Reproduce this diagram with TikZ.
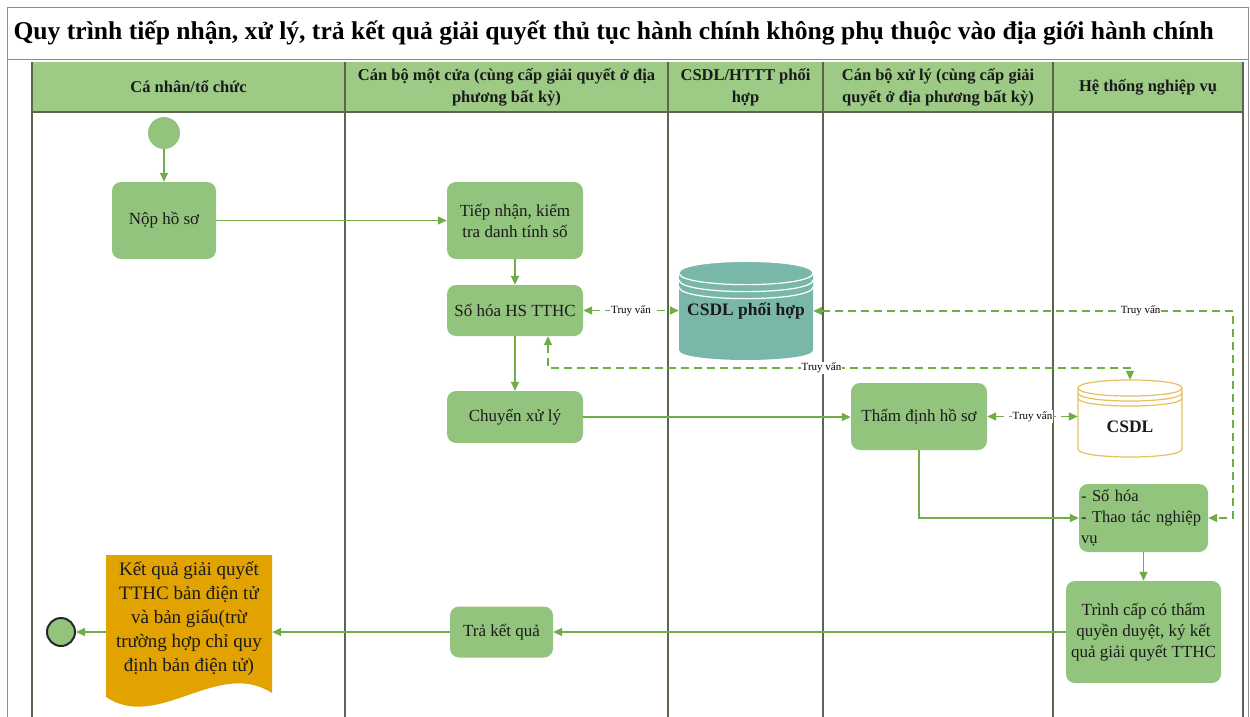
\documentclass[tikz,border=0pt]{standalone}
\usepackage{fontspec}
\setmainfont{Liberation Serif}
\usetikzlibrary{arrows.meta,calc}
\definecolor{hdrg}{HTML}{9DCB86}
\definecolor{boxg}{HTML}{93C47D}
\definecolor{lineg}{HTML}{70AD47}
\definecolor{lanec}{HTML}{5B6652}
\definecolor{frmc}{HTML}{8C8C8C}
\definecolor{dbteal}{HTML}{79B7A9}
\definecolor{docor}{HTML}{E2A200}
\definecolor{dbgold}{HTML}{E8BF5E}
\definecolor{txtc}{HTML}{1A1A1A}
\begin{document}
\begin{tikzpicture}[x=1pt,y=-1pt,
  proc/.style={fill=boxg, rounded corners=9pt, align=center, inner sep=0pt,
    font=\fontsize{17}{21}\selectfont, text=txtc},
  flow/.style={draw=lineg, line width=1.6pt, -{Triangle[length=9pt,width=8pt]}},
  qry/.style={draw=lineg, line width=1.6pt, dash pattern=on 8pt off 5pt,
    {Triangle[length=9pt,width=8pt]}-{Triangle[length=9pt,width=8pt]}},
  lbl/.style={fill=white, inner sep=1pt, font=\fontsize{11}{11}\selectfont, text=black},
  hdr/.style={align=center, font=\bfseries\fontsize{16.5}{22}\selectfont, text=txtc},
  lanel/.style={draw=lanec, line width=1.3pt}]
\useasboundingbox (0,0) rectangle (1250,717);
% frame and title
\draw[frmc, line width=1pt] (7,717) -- (7,8) -- (1248,8) -- (1248,717);
\draw[frmc, line width=1pt] (7,60) -- (1248,60);
\node[anchor=west, font=\bfseries\fontsize{25.6}{30}\selectfont, text=black] (title) at (10,33)
  {Quy trình tiếp nhận, xử lý, trả kết quả giải quyết thủ tục hành chính không phụ thuộc vào địa giới hành chính};
% header and lanes
\fill[hdrg] (32,62) rectangle (1243,112);
\draw[lanel] (32,112) -- (1243,112);
\foreach \xx in {32,345,668,823,1053,1243} \draw[lanel] (\xx,62) -- (\xx,717);
\node[hdr] (h1) at (188.5,87) {Cá nhân/tổ chức};
\node[hdr] (h2) at (506.5,87) {Cán bộ một cửa (cùng cấp giải quyết ở địa\\phương bất kỳ)};
\node[hdr] (h3) at (745.5,87) {CSDL/HTTT phối\\hợp};
\node[hdr] (h4) at (938,87) {Cán bộ xử lý (cùng cấp giải\\quyết ở địa phương bất kỳ)};
\node[hdr] (h5) at (1148,87) {Hệ thống nghiệp vụ};
% process nodes
\node[circle, fill=boxg, minimum size=32pt, inner sep=0pt] (start) at (164,133) {};
\node[proc, minimum width=104pt, minimum height=77pt] (nop) at (164,220.5) {Nộp hồ sơ};
\node[proc, minimum width=136pt, minimum height=77pt] (tiep) at (515,220.5) {Tiếp nhận, kiểm\\tra danh tính số};
\node[proc, minimum width=136pt, minimum height=51pt] (soh) at (515,310.5) {Số hóa HS TTHC};
\node[proc, minimum width=136pt, minimum height=52pt] (chuyen) at (515,417) {Chuyển xử lý};
\node[proc, minimum width=136pt, minimum height=67pt] (tham) at (919,416.5) {Thẩm định hồ sơ};
\node[proc, minimum width=129pt, minimum height=68pt, text width=125pt, align=left,
  font=\fontsize{16.5}{21}\selectfont] (soh2) at (1143.5,518)
  {- Số hóa\\- Thao tác nghiệp\\vụ};
\node[proc, minimum width=155pt, minimum height=102pt] (trinh) at (1143.5,632)
  {Trình cấp có thẩm\\quyền duyệt, ký kết\\quả giải quyết TTHC};
\node[proc, minimum width=103pt, minimum height=51pt] (tra) at (501.5,632) {Trả kết quả};
% database: CSDL phoi hop
\fill[dbteal] (679,273) -- (679,350) .. controls (679,363.3) and (813,363.3) .. (813,350)
  -- (813,273) .. controls (813,257.5) and (679,257.5) .. (679,273) -- cycle;
\draw[white, line width=1.2pt] (679,273) .. controls (679,257.5) and (813,257.5) .. (813,273)
  .. controls (813,288.5) and (679,288.5) .. (679,273);
\draw[white, line width=1.2pt] (679,280) .. controls (679,295.5) and (813,295.5) .. (813,280);
\draw[white, line width=1.2pt] (679,287) .. controls (679,302.5) and (813,302.5) .. (813,287);
\node[minimum width=134pt, minimum height=98pt, inner sep=0pt,
  font=\bfseries\fontsize{17.5}{20}\selectfont, text=txtc] (db1) at (746,311) {CSDL phối hợp};
% database: CSDL
\filldraw[fill=white, draw=dbgold, line width=1.2pt] (1078,388) -- (1078,449)
  .. controls (1078,459.7) and (1182,459.7) .. (1182,449) -- (1182,388)
  .. controls (1182,377.3) and (1078,377.3) .. (1078,388) -- cycle;
\draw[dbgold, line width=1.2pt] (1078,388) .. controls (1078,398.7) and (1182,398.7) .. (1182,388);
\draw[dbgold, line width=1.2pt] (1078,393) .. controls (1078,403.7) and (1182,403.7) .. (1182,393);
\draw[dbgold, line width=1.2pt] (1078,398) .. controls (1078,408.7) and (1182,408.7) .. (1182,398);
\node[minimum width=104pt, minimum height=77pt, inner sep=0pt] (db2) at (1130,418.5) {};
\node[font=\bfseries\fontsize{17.5}{20}\selectfont, text=txtc] (db2t) at (1130,427) {CSDL};
% document shape
\fill[docor] (106,555) -- (272,555) -- (272,693) .. controls (218,658) and (158,732) .. (106,697) -- cycle;
\node[minimum width=166pt, minimum height=125pt, inner sep=0pt, align=center,
  font=\fontsize{19}{24}\selectfont, text=txtc] (doc) at (189,619)
  {Kết quả giải quyết\\TTHC bản điện tử\\và bản giấu(trừ\\trường hợp chỉ quy\\định bản điện tử)};
% end
\node[circle, fill=boxg, draw=black!85, line width=2pt, minimum size=28pt, inner sep=0pt] (end) at (61,632) {};
% connectors
\coordinate (q1) at (548,368);
\coordinate (q2) at (1130,368);
\coordinate (r1) at (1233,311);
\coordinate (r2) at (1233,518);
\draw[flow] (start) -- (nop);
\draw[flow] (nop) -- (tiep);
\draw[flow] (tiep) -- (soh);
\draw[flow] (soh) -- (chuyen);
\draw[qry] (soh.east) -- node[lbl]{Truy vấn} (soh.east -| db1.west);
\draw[qry] (soh.south -| q1) -- (q1) -- node[lbl, pos=0.47]{Truy vấn} (q2) -- (db2.north);
\draw[qry] (db1.east) -- node[lbl, pos=0.78]{Truy vấn} (r1) -- (r2) -- (soh2.east);
\draw[flow] (chuyen) -- (chuyen -| tham.west);
\draw[qry] (tham.east) -- node[lbl]{Truy vấn} (tham.east -| db2.west);
\draw[flow] (tham.south) |- (soh2.west);
\draw[flow] (soh2.south -| trinh.north) -- (trinh.north);
\draw[flow] (trinh.west |- tra.east) -- (tra.east);
\draw[flow] (tra.west) -- (doc.east |- tra.west);
\draw[flow] (doc.west |- end) -- (end);
\end{tikzpicture}
\end{document}
